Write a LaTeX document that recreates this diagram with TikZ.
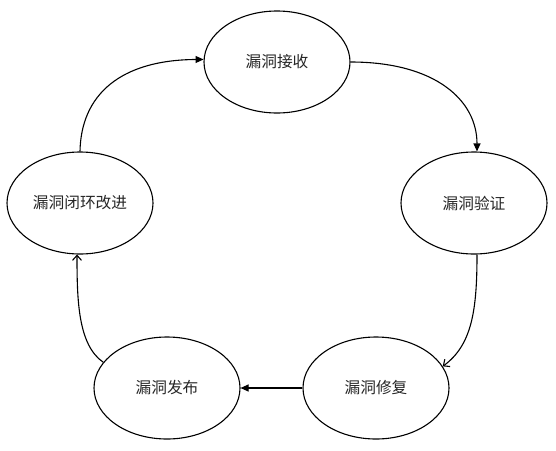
\documentclass[tikz,border=0pt]{standalone}
\usepackage{fontspec}
\newfontfamily\cjk{Noto Sans CJK SC}
\usetikzlibrary{shapes.geometric,arrows.meta}
\begin{document}
\begin{tikzpicture}[x=1pt,y=-1pt,
  stage/.style={ellipse,draw,line width=1.1pt,minimum width=146pt,minimum height=102pt,inner sep=0pt,font=\cjk\fontsize{15.7}{18}\selectfont,text=black!85},
  flow/.style={line width=1.1pt},
  solidtip/.style={-{Triangle[length=8pt,width=7pt]}},
  opentip/.style={-{Straight Barb[length=5pt,width=9pt]}}]
\useasboundingbox (0,0) rectangle (556,450);
\node[stage] (a) at (277,62) {漏洞接收};
\node[stage] (b) at (474,203) {漏洞验证};
\node[stage] (c) at (376,388) {漏洞修复};
\node[stage] (d) at (167,388) {漏洞发布};
\node[stage] (e) at (80,203) {漏洞闭环改进};
\draw[flow,solidtip] (a.east) .. controls (435,62) and (477,100) .. (b.north -| 477,0);
\draw[flow,opentip] (b.south -| 477,0) .. controls (477,310) and (472,345) .. (c.18);
\draw[flow,solidtip] (c.west) -- (d.east);
\draw[flow,opentip] (d.158) .. controls (78,345) and (77,300) .. (e.south -| 77,0);
\draw[flow,solidtip] (e.north) .. controls (81,95) and (120,60) .. (a.178);
\end{tikzpicture}
\end{document}
